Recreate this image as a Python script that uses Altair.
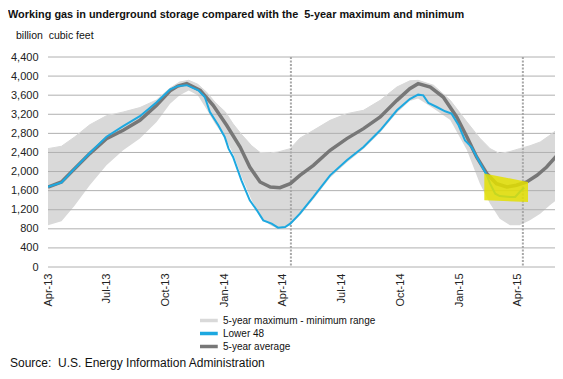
import altair as alt
import pandas as pd

TITLE = "Working gas in underground storage compared with the\u00a0 5-year maximum and minimum"
UNIT = "billion\u00a0 cubic feet"
SOURCE = "Source:\u00a0 U.S. Energy Information Administration"
SERIES = ["5-year maximum - minimum range", "Lower 48", "5-year average"]

avg_dates = ["2013-04-01", "2013-04-22", "2013-05-10", "2013-06-05", "2013-07-01", "2013-07-27",
             "2013-08-22", "2013-09-17", "2013-10-08", "2013-10-20", "2013-11-03", "2013-11-24",
             "2013-12-14", "2014-01-04", "2014-01-25", "2014-02-09", "2014-02-25", "2014-03-13",
             "2014-03-28", "2014-04-13", "2014-04-28", "2014-05-19", "2014-06-14", "2014-07-10",
             "2014-08-05", "2014-08-31", "2014-09-26", "2014-10-16", "2014-10-29", "2014-11-17",
             "2014-12-07", "2014-12-28", "2015-01-13", "2015-01-28", "2015-02-13", "2015-02-28",
             "2015-03-16", "2015-03-31", "2015-04-16", "2015-05-02", "2015-05-17", "2015-06-07"]
avg_vals = [1676, 1781, 2026, 2376, 2690, 2864,
            3073, 3388, 3690, 3790, 3842, 3702,
            3388, 2969, 2514, 2095, 1781, 1676,
            1663, 1747, 1921, 2131, 2445, 2690,
            2899, 3143, 3492, 3737, 3842, 3771,
            3562, 3143, 2724, 2305, 1957, 1747,
            1676, 1712, 1781, 1921, 2095, 2410]

l48_dates = ["2013-04-01", "2013-04-22", "2013-05-10", "2013-06-05", "2013-07-01", "2013-07-27",
             "2013-08-22", "2013-09-17", "2013-10-08", "2013-10-20", "2013-11-03", "2013-11-21",
             "2013-12-01", "2013-12-09", "2013-12-22", "2014-01-01", "2014-01-07", "2014-01-14",
             "2014-01-27", "2014-02-09", "2014-02-20", "2014-03-02", "2014-03-15", "2014-03-25",
             "2014-04-05", "2014-04-13", "2014-04-28", "2014-05-19", "2014-06-14", "2014-07-10",
             "2014-08-05", "2014-08-31", "2014-09-26", "2014-10-16", "2014-10-29", "2014-11-06",
             "2014-11-14", "2014-11-27", "2014-12-10", "2014-12-20", "2014-12-31", "2015-01-10",
             "2015-01-20", "2015-01-31", "2015-02-13", "2015-02-18", "2015-02-26", "2015-03-05",
             "2015-03-21", "2015-03-29", "2015-04-05", "2015-04-12"]
l48_vals = [1680, 1770, 2030, 2390, 2730, 2950,
            3160, 3450, 3720, 3790, 3810, 3702,
            3562, 3247, 2969, 2724, 2480, 2305,
            1816, 1397, 1188, 978, 909, 825,
            838, 909, 1118, 1467, 1921, 2235,
            2514, 2864, 3283, 3520, 3611, 3597,
            3436, 3352, 3262, 3213, 2969, 2654,
            2514, 2235, 1921, 1747, 1537, 1487,
            1467, 1467, 1571, 1663]

band_dates = ["2013-04-01", "2013-04-22", "2013-05-12", "2013-06-05", "2013-07-01", "2013-07-27",
              "2013-08-22", "2013-09-17", "2013-10-08", "2013-10-23", "2013-11-06", "2013-11-20",
              "2013-12-04", "2013-12-17", "2014-01-02", "2014-01-14", "2014-01-27", "2014-02-12",
              "2014-02-25", "2014-03-13", "2014-03-25", "2014-04-13", "2014-04-28", "2014-05-19",
              "2014-06-14", "2014-07-10", "2014-08-05", "2014-08-31", "2014-09-26", "2014-10-16",
              "2014-10-29", "2014-11-22", "2014-12-18", "2015-01-13", "2015-02-02", "2015-02-18",
              "2015-03-05", "2015-03-21", "2015-04-05", "2015-04-21", "2015-05-07", "2015-05-22",
              "2015-06-07"]
band_max = [2480, 2530, 2720, 2980, 3170, 3247,
            3340, 3500, 3750, 3876, 3911, 3830,
            3660, 3450, 3247, 3000, 2780, 2540,
            2400, 2390, 2410, 2480, 2700, 2864,
            3073, 3213, 3283, 3492, 3771, 3900,
            3911, 3807, 3492, 3038, 2700, 2480,
            2376, 2420, 2480, 2540, 2619, 2760,
            2933]
band_min = [874, 960, 1280, 1712, 2131, 2445,
            2690, 3038, 3423, 3600, 3700, 3600,
            3300, 3000, 2700, 2376, 1900, 1397,
            1047, 874, 804, 874, 1080, 1420,
            1870, 2190, 2470, 2820, 3230, 3480,
            3530, 3320, 3080, 2445, 1747, 1327,
            1013, 874, 874, 978, 1118, 1293,
            1467]

y_ticks = [0, 400, 800, 1200, 1600, 2000, 2400, 2800, 3200, 3600, 4000, 4400]
x_tick_dates = ["2013-04-01", "2013-07-01", "2013-10-01", "2014-01-01", "2014-04-01",
                "2014-07-01", "2014-10-01", "2015-01-01", "2015-04-01"]
marker_dates = ["2014-04-14", "2015-04-10"]
box_dates = ["2015-02-09", "2015-04-18"]
box_top = [1960, 1780]
box_bottom = [1400, 1360]
highlight_start = "2015-02-13"

FONT = "Liberation Sans"
BAND = "#d9d9d9"
BLUE = "#1da8e0"
GRAY = "#777777"

x_domain = ["2013-04-01", "2015-05-30"]
xscale = alt.Scale(type="utc", domain=x_domain)
yscale = alt.Scale(domain=[0, 4400], nice=False)
tick_ms = [int(pd.Timestamp(d).value // 10**6) for d in x_tick_dates]

band_df = pd.DataFrame({"date": band_dates, "max": band_max, "min": band_min})
lines_df = pd.concat([
    pd.DataFrame({"date": band_dates, "value": band_max, "series": SERIES[0]}),
    pd.DataFrame({"date": l48_dates, "value": l48_vals, "series": SERIES[1]}),
    pd.DataFrame({"date": avg_dates, "value": avg_vals, "series": SERIES[2]}),
], ignore_index=True)
grid_df = pd.DataFrame({"v": y_ticks})
marker_df = pd.DataFrame({"date": marker_dates})
box_df = pd.DataFrame({"date": box_dates, "top": box_top, "bottom": box_bottom})

color_scale = alt.Scale(domain=SERIES, range=[BAND, BLUE, GRAY])
legend = alt.Legend(title=None, orient="none", legendX=152, legendY=257,
                    symbolType="M-2.15,0H2.15", symbolSize=100, symbolStrokeWidth=3.5,
                    clipHeight=13, rowPadding=0,
                    labelFont=FONT, labelFontSize=10, labelColor="#111", labelOffset=9)

x_axis = alt.Axis(values=tick_ms, labelExpr="utcFormat(datum.value, '%b-%y')", labelAngle=270,
                  domain=False, ticks=False, grid=False, labelPadding=6, title=None,
                  labelFont=FONT, labelFontSize=11, labelColor="#222")
y_axis = alt.Axis(values=y_ticks, format=",d", domain=False, ticks=False, grid=False,
                  labelPadding=10, title=None, labelFont=FONT, labelFontSize=11,
                  labelColor="#222")

X = lambda f: alt.X(f, scale=xscale, axis=x_axis)
Y = lambda f: alt.Y(f, scale=yscale, axis=y_axis)

band = alt.Chart(band_df).mark_area(color=BAND, clip=True).encode(
    x=X("date:T"), y=Y("min:Q"), y2="max:Q",
)

grid = alt.Chart(grid_df).mark_rule(color="#b0b0b0", strokeWidth=1).encode(y=Y("v:Q"))

markers = alt.Chart(marker_df).mark_rule(color="#a8a8a8", strokeWidth=2, strokeDash=[2, 1.5]).encode(
    x=X("date:T")
)


def series_line(name, width):
    return alt.Chart(lines_df).transform_filter(alt.datum.series == name).mark_line(
        clip=True, strokeWidth=width
    ).encode(
        x=X("date:T"), y=Y("value:Q"),
        color=alt.Color("series:N", scale=color_scale, legend=legend),
    )


box = alt.Chart(box_df).mark_area(color="#e3df00", opacity=0.85).encode(
    x=X("date:T"), y=Y("bottom:Q"), y2="top:Q",
)

green = alt.Chart(lines_df).transform_filter(
    (alt.datum.series == SERIES[1]) & (alt.datum.date >= highlight_start)
).mark_line(color="#1e9a26", strokeWidth=2).encode(x=X("date:T"), y=Y("value:Q"))

title = alt.Chart(pd.DataFrame({"t": [TITLE]})).mark_text(
    font=FONT, fontSize=10.9, fontWeight="bold", align="left", baseline="top", color="#111"
).encode(x=alt.value(-40), y=alt.value(-48), text="t:N")

unit = alt.Chart(pd.DataFrame({"t": [UNIT]})).mark_text(
    font=FONT, fontSize=10.5, align="left", baseline="middle", color="#111"
).encode(x=alt.value(-32), y=alt.value(-21), text="t:N")

source = alt.Chart(pd.DataFrame({"t": [SOURCE]})).mark_text(
    font=FONT, fontSize=12, align="left", baseline="alphabetic", color="#111"
).encode(x=alt.value(-38), y=alt.value(310), text="t:N")

chart = alt.layer(
    band, grid, markers,
    series_line(SERIES[0], 1), series_line(SERIES[2], 3.5), series_line(SERIES[1], 2),
    box, green, title, unit, source,
).properties(
    width=507, height=210,
    autosize=alt.AutoSizeParams(type="none"),
    padding={"left": 40, "top": 49, "right": 0, "bottom": 104},
).configure_view(stroke=None)

chart.save("out.html", embed_options={"renderer": "svg", "actions": False})
